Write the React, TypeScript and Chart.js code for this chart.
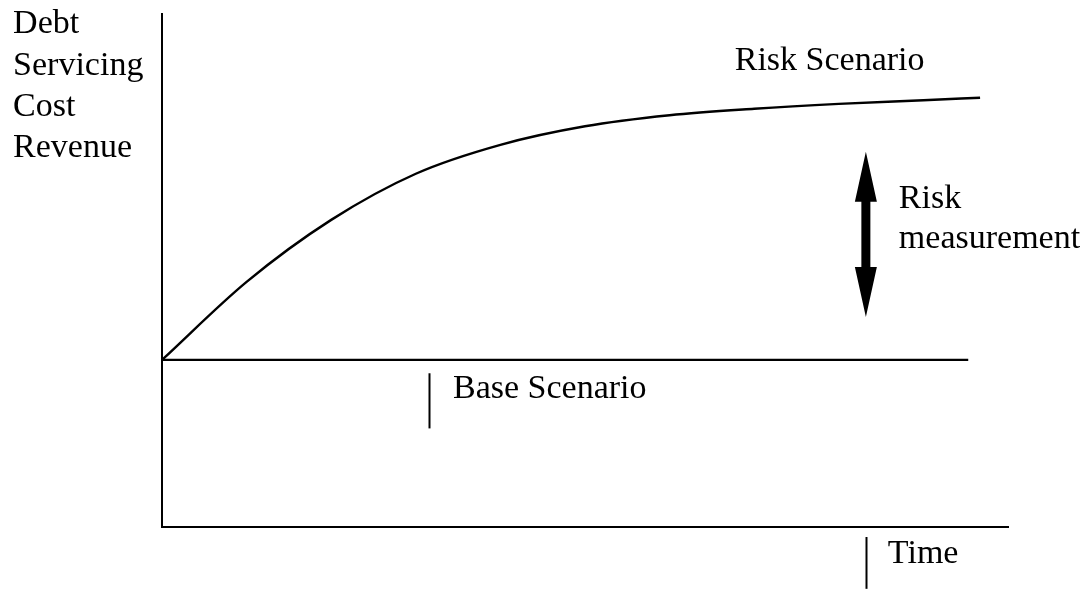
import React, { useEffect, useRef } from "react";
import { Chart, registerables } from "chart.js";
Chart.register(...registerables);

// Risk scenario curve (time units, cost/revenue index)
const riskTime = [0, 1, 2, 3, 4, 5, 6, 7, 8, 9, 9.67];
const riskValues = [100, 146.7, 183.8, 211.4, 228.7, 239.8, 246.4, 250.3, 253.2, 255.4, 256.9];
// Base scenario (flat)
const baseTime = [0, 9.53];
const baseValues = [100, 100];

const X_MIN = 0;
const X_MAX = 10;
const Y_MIN = 0;
const Y_MAX = 307;

const yAxisLabel = ["Debt", "Servicing", "Cost", "Revenue"];
const riskLabel = "Risk Scenario";
const measureLabel = ["Risk", "measurement"];
const baseLabel = "Base Scenario";
const timeLabel = "Time";

// Risk-measurement arrow (between curves)
const arrowTime = 8.32;
const arrowTop = 224.6;
const arrowBottom = 125.7;

// label anchor positions (data coords)
const labelPos = {
  yAxis: { t: -1.76, v: [295.8, 270.7, 246.1, 221.6] },
  risk: { t: 6.77, v: 273.7 },
  measure: { t: 8.71, v: [191, 167] },
  base: { t: 3.44, v: 77.2 },
  time: { t: 8.58, v: -21.6 },
};
const baseTick = { t: 3.16, from: 92, to: 59 };
const timeTick = { t: 8.32, from: -6, to: -37 };

const FONT = "34px 'Liberation Serif', 'Times New Roman', serif";

const overlay = {
  id: "overlay",
  afterDatasetsDraw(chart: any) {
    const { ctx, scales } = chart;
    const xs = scales.x;
    const ys = scales.y;
    const px = (t: number) => xs.getPixelForValue(t);
    const py = (v: number) => ys.getPixelForValue(v);
    ctx.save();
    ctx.fillStyle = "#000";
    ctx.strokeStyle = "#000";
    ctx.font = FONT;
    ctx.textBaseline = "alphabetic";
    ctx.textAlign = "left";
    yAxisLabel.forEach((s, i) => ctx.fillText(s, px(labelPos.yAxis.t), py(labelPos.yAxis.v[i])));
    ctx.fillText(riskLabel, px(labelPos.risk.t), py(labelPos.risk.v));
    measureLabel.forEach((s, i) => ctx.fillText(s, px(labelPos.measure.t), py(labelPos.measure.v[i])));
    ctx.fillText(baseLabel, px(labelPos.base.t), py(labelPos.base.v));
    ctx.fillText(timeLabel, px(labelPos.time.t), py(labelPos.time.v));

    // tick marks
    ctx.lineWidth = 2;
    [baseTick, timeTick].forEach((tk) => {
      const x = Math.round(px(tk.t)) + 0.5;
      ctx.beginPath();
      ctx.moveTo(x, py(tk.from));
      ctx.lineTo(x, py(tk.to));
      ctx.stroke();
    });

    // double-headed arrow
    const ax = px(arrowTime);
    const yt = py(arrowTop);
    const yb = py(arrowBottom);
    const headLen = 50;
    const headW = 11;
    const shaftW = 4.5;
    ctx.beginPath();
    ctx.moveTo(ax, yt);
    ctx.lineTo(ax + headW, yt + headLen);
    ctx.lineTo(ax + shaftW, yt + headLen);
    ctx.lineTo(ax + shaftW, yb - headLen);
    ctx.lineTo(ax + headW, yb - headLen);
    ctx.lineTo(ax, yb);
    ctx.lineTo(ax - headW, yb - headLen);
    ctx.lineTo(ax - shaftW, yb - headLen);
    ctx.lineTo(ax - shaftW, yt + headLen);
    ctx.lineTo(ax - headW, yt + headLen);
    ctx.closePath();
    ctx.fill();
    ctx.restore();
  },
};

export default function App() {
  const ref = useRef<HTMLCanvasElement | null>(null);
  useEffect(() => {
    if (!ref.current) return;
    const chart = new Chart(ref.current, {
      type: "line",
      data: {
        datasets: [
          {
            label: riskLabel,
            data: riskTime.map((t, i) => ({ x: t, y: riskValues[i] })),
            borderColor: "#000",
            borderWidth: 2.4,
            pointRadius: 0,
            cubicInterpolationMode: "monotone",
            fill: false,
          },
          {
            label: baseLabel,
            data: baseTime.map((t, i) => ({ x: t, y: baseValues[i] })),
            borderColor: "#000",
            borderWidth: 2.4,
            pointRadius: 0,
            fill: false,
          },
        ],
      },
      options: {
        responsive: false,
        animation: false,
        layout: { padding: { left: 162, right: 79, top: 14, bottom: 62 }, autoPadding: false },
        plugins: { legend: { display: false }, tooltip: { enabled: false }, title: { display: false } },
        scales: {
          x: {
            type: "linear",
            min: X_MIN,
            max: X_MAX,
            grid: { display: false, drawTicks: false },
            ticks: { display: false },
            border: { display: true, color: "#000", width: 2 },
          },
          y: {
            type: "linear",
            min: Y_MIN,
            max: Y_MAX,
            grid: { display: false, drawTicks: false },
            ticks: { display: false },
            border: { display: true, color: "#000", width: 2 },
          },
        },
      },
      plugins: [overlay],
    });
    return () => chart.destroy();
  }, []);
  return (
    <div style={{ position: "absolute", left: 0, top: 0, width: 1087, height: 589, background: "#fff" }}>
      <canvas ref={ref} width={1087} height={589} style={{ display: "block" }} />
    </div>
  );
}
